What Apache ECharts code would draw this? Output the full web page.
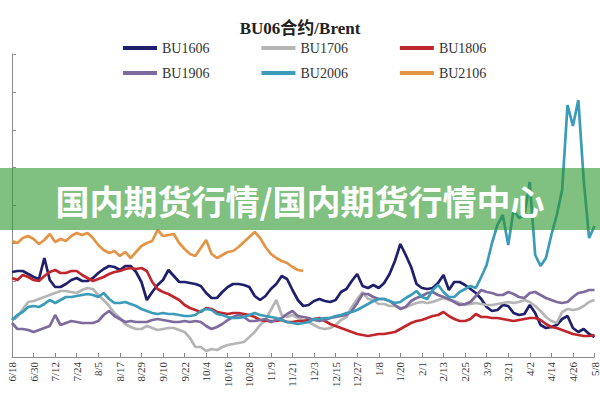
<!DOCTYPE html>
<html><head><meta charset="utf-8">
<script src="https://cdn.jsdelivr.net/npm/echarts@6/dist/echarts.min.js"></script>
<style>html,body{margin:0;padding:0;background:#fff}#c{width:600px;height:400px}</style>
</head><body><div id="c"></div>
<script>
// Tick labels (every 12 days)
const DATES = ['6/18','6/30','7/12','7/24','8/5','8/17','8/29','9/10','9/22','10/4','10/16','10/28','11/9','11/21','12/3','12/15','12/27','1/8','1/20','2/1','2/13','2/25','3/9','3/21','4/2','4/14','4/26','5/8'];
const STEP = 3; // days between samples
const SERIES_NAMES = ['BU1606','BU1706','BU1806','BU1906','BU2006','BU2106'];

const BU1606 = [85,86,86,83,80,78,99,77,70,70, 73,77,79,76,76,79,84,88,91,90, 87,91,91,85,75,57,65,72,77,87, 81,75,75,74,73,71,64,59,59,65, 70,73,73,72,70,61,57,61,68,73, 81,78,67,57,51,52,56,58,56,55, 57,65,68,76,83,71,69,72,69,74, 83,96,113,102,90,73,69,68,69,74, 82,67,75,75,72,68,64,58,50,46, 47,52,51,44,42,43,52,44,32,29, 30,32,38,41,29,25,28,23,20];
const BU1706 = [37,40,48,55,56,58,60,62,64,66, 66,65,64,67,69,68,62,57,51,44, 39,33,30,28,28,31,29,27,28,29, 29,27,25,19,10,10,6,8,7,10, 12,13,14,15,20,25,32,37,47,57, 42,40,42,39,37,35,32,29,28,29, 32,37,40,50,58,65,58,57,53,53, 51,51,49,50,52,54,55,54,55,57, 59,57,56,54,52,53,54,53,52,52, 53,54,55,54,55,57,55,51,46,40, 36,34,45,48,47,48,51,55,57];
const BU1806 = [79,77,82,80,77,76,81,85,87,84, 84,86,86,82,79,76,78,80,83,85, 86,88,89,88,89,86,75,68,65,63, 60,57,52,49,47,45,49,48,45,44, 43,44,44,43,42,40,37,36,36,36, 37,35,35,36,36,37,38,39,36,33, 31,29,27,25,23,22,21,22,23,23, 24,25,28,31,34,36,37,39,41,42, 45,41,38,36,36,38,43,40,40,39, 39,38,37,36,37,38,39,39,37,33, 30,29,27,25,23,22,21,21,22];
const BU1906 = [34,28,28,27,25,27,29,31,42,32, 34,36,35,34,34,34,36,42,46,41, 38,35,36,35,35,35,37,38,37,36, 35,35,36,35,36,35,31,28,30,33, 37,40,42,40,36,36,37,38,35,37, 39,43,46,41,40,39,37,36,37,39, 40,41,42,46,54,63,63,60,58,58, 56,52,48,50,56,59,61,64,65,62, 60,58,55,52,53,55,61,67,65,64, 62,62,65,63,60,59,64,65,62,59, 57,55,54,55,60,64,65,67,67];
const BU2006 = [37,42,45,50,51,50,53,57,54,57, 60,60,61,62,63,62,60,64,58,54, 54,55,53,51,48,46,44,43,44,43, 43,42,41,41,42,46,48,47,43,42, 40,39,39,40,42,44,42,41,40,39, 37,35,34,33,34,35,38,38,39,39, 41,42,44,45,47,50,53,56,58,58, 56,54,55,59,62,66,60,58,67,72, 65,60,60,65,68,71,69,80,92,114, 132,142,112,147,139,142,175,102,91,99, 122,142,167,252,231,257,177,119,131];
const BU2106 = [116,114,119,121,118,113,117,123,115,118, 116,121,124,122,124,119,112,107,104,106, 101,105,99,105,111,114,116,127,121,122, 123,114,108,103,101,109,117,103,99,102, 105,106,110,115,120,125,119,110,103,99, 96,94,90,87,86];

const COLORS = ['#1f1f6b','#b5b5b5','#c0272d','#7d6b9d','#3b9bb8','#e39446'];
const VALUES = [BU1606,BU1706,BU1806,BU1906,BU2006,BU2106];

const chart = echarts.init(document.getElementById('c'), null, {renderer:'svg'});
const axisColor = '#8c8c8c';
const series = SERIES_NAMES.map((name, s) => ({
  name, type:'line', symbol:'none', showSymbol:false, animation:false,
  data: VALUES[s].map((v,i)=>[i*STEP, v]),
  lineStyle:{width:2.7, color:COLORS[s]}, itemStyle:{color:COLORS[s]}
}));
const legendBase = {
  left:118, orient:'horizontal', icon:'rect', itemWidth:34, itemHeight:4, itemGap:52,
  selectedMode:false,
  textStyle:{fontFamily:'"Liberation Serif", serif', fontSize:14, color:'#333', padding:[0,0,0,0]}
};
chart.setOption({
  animation:false,
  backgroundColor:'#fff',
  title:{text:'BU06合约/Brent', left:'center', top:15,
    textStyle:{fontFamily:'"Liberation Serif", "Noto Sans CJK SC", serif', fontWeight:'bold', fontSize:17, color:'#222'}},
  legend:[
    Object.assign({}, legendBase, {top:36, data:SERIES_NAMES.slice(0,3)}),
    Object.assign({}, legendBase, {top:61, data:SERIES_NAMES.slice(3,6)})
  ],
  grid:{left:12, right:2, top:54, bottom:43},
  xAxis:{type:'value', min:0, max:324, interval:12,
    axisLine:{lineStyle:{color:axisColor}},
    axisTick:{inside:true, length:4, lineStyle:{color:axisColor}},
    splitLine:{show:false},
    axisLabel:{rotate:90, fontSize:11, fontFamily:'"Liberation Serif", serif', color:'#333', margin:5,
      formatter:v => DATES[Math.round(v/12)] || ''}},
  yAxis:{type:'value', min:0, max:303, interval:37.875,
    axisLine:{show:true, lineStyle:{color:axisColor}},
    axisTick:{show:true, inside:true, length:4, lineStyle:{color:axisColor}},
    axisLabel:{show:false}, splitLine:{show:false}},
  series,
  graphic:[
    {type:'rect', z:100, shape:{x:0, y:168, width:600, height:62}, style:{fill:'rgba(43,150,43,0.6)'}},
    {type:'text', z:101, left:'center', top:183,
      style:{text:'国内期货行情/国内期货行情中心', fill:'#fff', font:'bold 34px "Noto Sans CJK SC", sans-serif'}}
  ]
});
</script>
</body></html>
